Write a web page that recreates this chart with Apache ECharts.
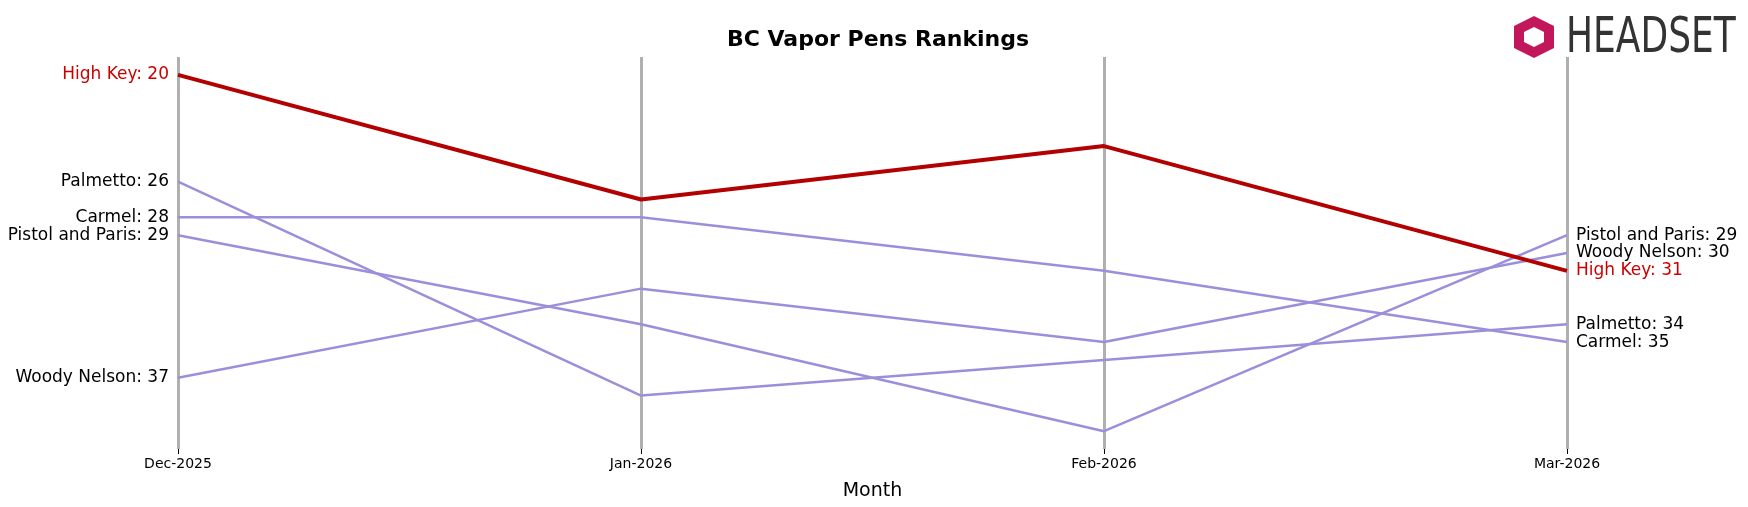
<!DOCTYPE html>
<html><head><meta charset="utf-8">
<script src="https://cdn.jsdelivr.net/npm/echarts@6/dist/echarts.min.js"></script>
<style>html,body{margin:0;padding:0;background:#fff}#c{width:1748px;height:507px}</style>
</head><body><div id="c"></div>
<script>
const months = ["Dec-2025","Jan-2026","Feb-2026","Mar-2026"];
const highKey = [20,27,24,31];
const palmetto = [26,38,36,34];
const carmel = [28,28,31,35];
const pistolParis = [29,34,40,29];
const woodyNelson = [37,32,35,30];
const names = ["Palmetto","Carmel","Pistol and Paris","Woody Nelson","High Key"];
const datas = [palmetto,carmel,pistolParis,woodyNelson,highKey];

const series = names.map((n,i)=>{
  const hk = n==="High Key";
  const col = hk ? "#cc0000" : "#000";
  return {
    type:"line", name:n, data:datas[i], symbol:"none", z: hk?5:2,
    lineStyle:{color: hk?"#b30000":"#9b8fdb", width: hk?4:2.5},
    endLabel:{show:true, distance:9, fontSize:17, color:col, fontFamily:"DejaVu Sans",
      formatter:p=>`${n}: ${p.value}`},
    markPoint:{symbol:"circle", symbolSize:0, silent:true,
      data:[{coord:[0, datas[i][0]], value:datas[i][0]}],
      label:{show:true, position:"left", distance:9, fontSize:17, color:col, fontFamily:"DejaVu Sans",
        formatter:p=>`${n}: ${p.value}`}}
  };
});
const chart = echarts.init(document.getElementById("c"));
chart.setOption({
  animation:false,
  title:{text:"BC Vapor Pens Rankings", left:873, top:24, textAlign:"center",
    textStyle:{fontSize:22, fontWeight:"bold", color:"#000", fontFamily:"DejaVu Sans"}},
  grid:{left:178, right:181, top:57, bottom:58},
  xAxis:{type:"category", data:months, boundaryGap:false,
    name:"Month", nameLocation:"middle", nameGap:33,
    nameTextStyle:{fontSize:19, color:"#000", fontFamily:"DejaVu Sans"},
    axisLine:{show:false}, axisTick:{show:true, length:5, lineStyle:{color:"#000"}},
    axisLabel:{fontSize:14, color:"#000", margin:8, fontFamily:"DejaVu Sans"},
    splitLine:{show:true, lineStyle:{color:"#b0b0b0", width:3}}},
  yAxis:{type:"value", inverse:true, min:19, max:41, show:false},
  series,
  graphic:[
    {type:"text", x:1566, y:14, scaleX:0.72, style:{text:"HEADSET", fontSize:50, fill:"#333", fontFamily:"DejaVu Sans"}},
    {type:"polygon", shape:{points:[[1534,16],[1554,26],[1554,48],[1534,58],[1514,48],[1514,26]]}, style:{fill:"#c2185b"}},
    {type:"polygon", shape:{points:[[1534,27],[1544,32],[1544,42],[1534,47],[1524,42],[1524,32]]}, style:{fill:"#fff"}}
  ]
});
</script></body></html>
